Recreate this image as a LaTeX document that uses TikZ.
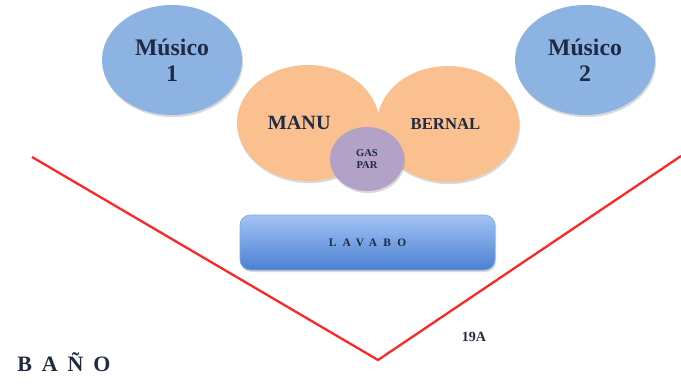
\documentclass[tikz,border=0pt]{standalone}
\usepackage{fontspec}
\setmainfont{Liberation Serif}
\usepackage{tikz}
\usetikzlibrary{shapes.geometric}
\usetikzlibrary{shadows}
\definecolor{musicblue}{HTML}{8DB3E2}
\definecolor{actororange}{HTML}{FAC090}
\definecolor{gasparlila}{HTML}{B3A2C7}
\definecolor{textnavy}{HTML}{1F2A44}
\definecolor{lavabotop}{HTML}{A3C4F5}
\definecolor{lavabobottom}{HTML}{4A80D2}
\tikzset{soft/.style = {drop shadow={opacity=0.3,shadow xshift=0.6pt,shadow yshift=-1.2pt}}}
\tikzset{musician/.style = {shape=ellipse,fill=musicblue,soft,minimum width=2.8cm,minimum height=2.2cm,align=center,font=\bfseries\fontsize{13.5}{15}\selectfont,text=textnavy}}
\tikzset{actor/.style = {shape=ellipse,fill=actororange,soft,minimum width=2.84cm,minimum height=2.32cm,text=textnavy}}
\tikzset{basin/.style = {rounded corners=6pt,draw=lavabobottom!70,top color=lavabotop,bottom color=lavabobottom,soft,minimum width=5.1cm,minimum height=1.1cm,text=textnavy,font=\bfseries\fontsize{6.5}{7}\selectfont\addfontfeatures{LetterSpace=55}}}
\tikzset{wall/.style = {draw=red!85!white,line width=1.3pt}}

\begin{document}
\begin{tikzpicture}
            \useasboundingbox (0,0) rectangle (13.62,-7.68);
            % Musicos
            \node[musician] (m1) at (3.44,-1.2) {Músico\\1};
            \node[musician] (m2) at (11.7,-1.2) {Músico\\2};

            % Actores
            \node[actor,font=\bfseries\fontsize{11.5}{13}\selectfont] (manu) at (6.16,-2.46) {MANU\hspace*{0.35cm}};
            \node[actor,font=\bfseries\fontsize{9.5}{11}\selectfont] (bernal) at (8.96,-2.48) {BERNAL\hspace*{0.1cm}};
            \node[shape=ellipse,fill=gasparlila,soft,minimum width=1.48cm,minimum height=1.28cm,align=center,text=textnavy,font=\bfseries\fontsize{6}{7}\selectfont] (gaspar) at (7.34,-3.18) {GAS\\PAR};

            % Lavabo
            \node[basin] (lavabo) at (7.35,-4.85) {LAVABO};

            % Pared
            \coordinate (wl) at (0.64,-3.14);
            \coordinate (wb) at (7.56,-7.2);
            \coordinate (wr) at (13.62,-3.12);
            \draw[wall] (wl) -- (wb) -- (wr);

            % Textos
            \node[text=textnavy,font=\bfseries\fontsize{8}{9}\selectfont] (num) at (9.48,-6.74) {19A};
            \node[text=textnavy,font=\bfseries\fontsize{12.5}{14}\selectfont\addfontfeatures{LetterSpace=45}] (bano) at (1.28,-7.24) {BAÑO};
        \end{tikzpicture}
\end{document}
